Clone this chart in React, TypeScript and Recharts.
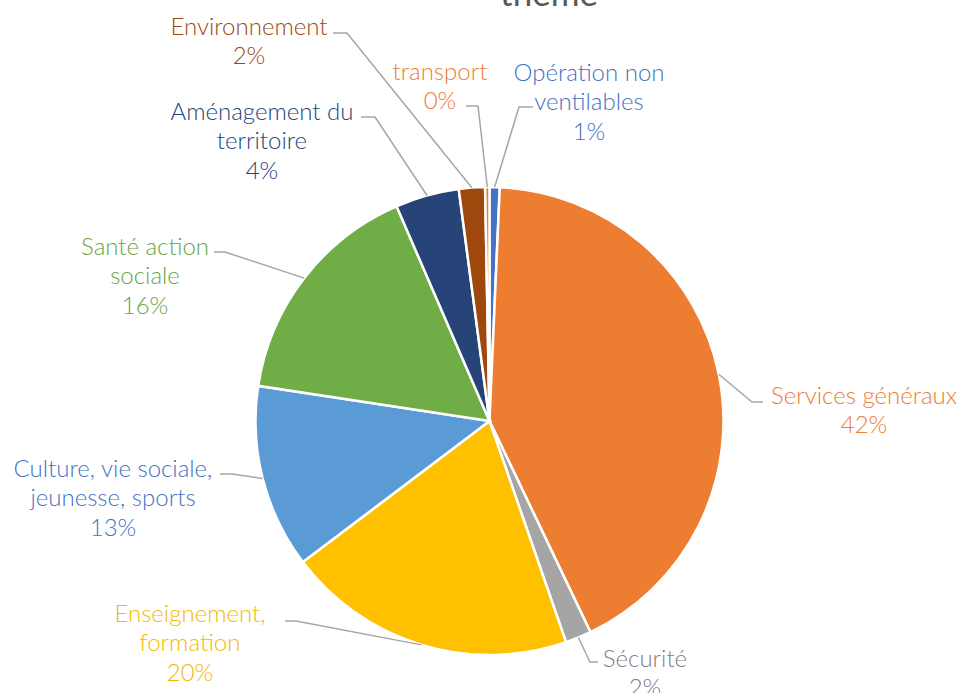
import React from "react";
import { PieChart, Pie, Cell } from "recharts";

const categories = [
  "Opération non ventilables",
  "Services généraux",
  "Sécurité",
  "Enseignement, formation",
  "Culture, vie sociale, jeunesse, sports",
  "Santé action sociale",
  "Aménagement du territoire",
  "Environnement",
  "transport",
];
const shares = [0.7, 42.2, 1.8, 20.0, 12.7, 16.1, 4.4, 1.8, 0.3];
const labelLines = [
  ["Opération non", "ventilables"],
  ["Services généraux"],
  ["Sécurité"],
  ["Enseignement,", "formation"],
  ["Culture, vie sociale,", "jeunesse, sports"],
  ["Santé action", "sociale"],
  ["Aménagement du", "territoire"],
  ["Environnement"],
  ["transport"],
];
const sliceColors = ["#4472C4", "#ED7D31", "#A5A5A5", "#FFC000", "#5B9BD5", "#70AD47", "#264478", "#9E480E", "#ED7D31"];
const labelColors = ["#4472C4", "#ED7D31", "#808080", "#F5B800", "#4472C4", "#68A53F", "#264478", "#9E480E", "#ED7D31"];

// label layout relative to pie centre: elbow, end of leader, text centre (first line)
const labelLayout = [
  { ex: 29.5, ey: -314, hx: 43.5, tx: 99.5, ty: -350 },
  { ex: 262.5, ey: -19, hx: 273.5, tx: 374.5, ty: -27 },
  { ex: 100.5, ey: 241, hx: 108.5, tx: 155.5, ty: 236 },
  { ex: -193.5, ey: 200, hx: -204.5, tx: -299.5, ty: 191 },
  { ex: -257.5, ey: 53, hx: -269.5, tx: -376.5, ty: 46 },
  { ex: -264.5, ey: -169, hx: -275.5, tx: -344.5, ty: -176 },
  { ex: -114.5, ey: -304, hx: -128.5, tx: -227.5, ty: -311 },
  { ex: -142.5, ey: -388, hx: -156.5, tx: -240.5, ty: -396 },
  { ex: -11.5, ey: -315, hx: -23.5, tx: -49.5, ty: -351 },
];

const data = categories.map((name, i) => ({ name, value: shares[i] }));

const FONT = "Lato, 'Noto Sans', sans-serif";
const RADIAN = Math.PI / 180;
const LINE_H = 29.5;

const renderLabel = (props: any) => {
  const { cx, cy, midAngle, outerRadius, index, value } = props;
  const L = labelLayout[index];
  const sx = cx + outerRadius * Math.cos(-midAngle * RADIAN);
  const sy = cy + outerRadius * Math.sin(-midAngle * RADIAN);
  const lines = [...labelLines[index], `${Math.round(value)}%`];
  return (
    <g key={`lbl-${index}`}>
      <polyline
        points={`${sx},${sy} ${cx + L.ex},${cy + L.ey} ${cx + L.hx},${cy + L.ey}`}
        fill="none"
        stroke="#A6A6A6"
        strokeWidth={1.5}
      />
      <text
        x={cx + L.tx}
        y={cy + L.ty}
        textAnchor="middle"
        fill={labelColors[index]}
        fontFamily={FONT}
        fontSize={24}
        fontWeight={300}
      >
        {lines.map((t, k) => (
          <tspan key={k} x={cx + L.tx} y={cy + L.ty + k * LINE_H} dominantBaseline="central">
            {t}
          </tspan>
        ))}
      </text>
    </g>
  );
};

export default function App() {
  return (
    <div style={{ position: "absolute", left: 0, top: 0, width: 963, height: 693, background: "#fff", overflow: "hidden" }}>
      <PieChart width={963} height={693} margin={{ top: 0, right: 0, bottom: 0, left: 0 }}>
        <Pie
          data={data}
          dataKey="value"
          nameKey="name"
          cx={489.5}
          cy={421}
          outerRadius={234}
          startAngle={90}
          endAngle={-270}
          stroke="#ffffff"
          strokeWidth={2.5}
          label={renderLabel}
          labelLine={false}
          isAnimationActive={false}
        >
          {data.map((d, i) => (
            <Cell key={d.name} fill={sliceColors[i]} />
          ))}
        </Pie>
      </PieChart>
      <svg width={963} height={693} style={{ position: "absolute", left: 0, top: 0, pointerEvents: "none" }}>
        <text x={549} y={6} textAnchor="middle" fill="#595959" fontFamily={FONT} fontSize={35} fontWeight={400}>
          thème
        </text>
      </svg>
    </div>
  );
}
